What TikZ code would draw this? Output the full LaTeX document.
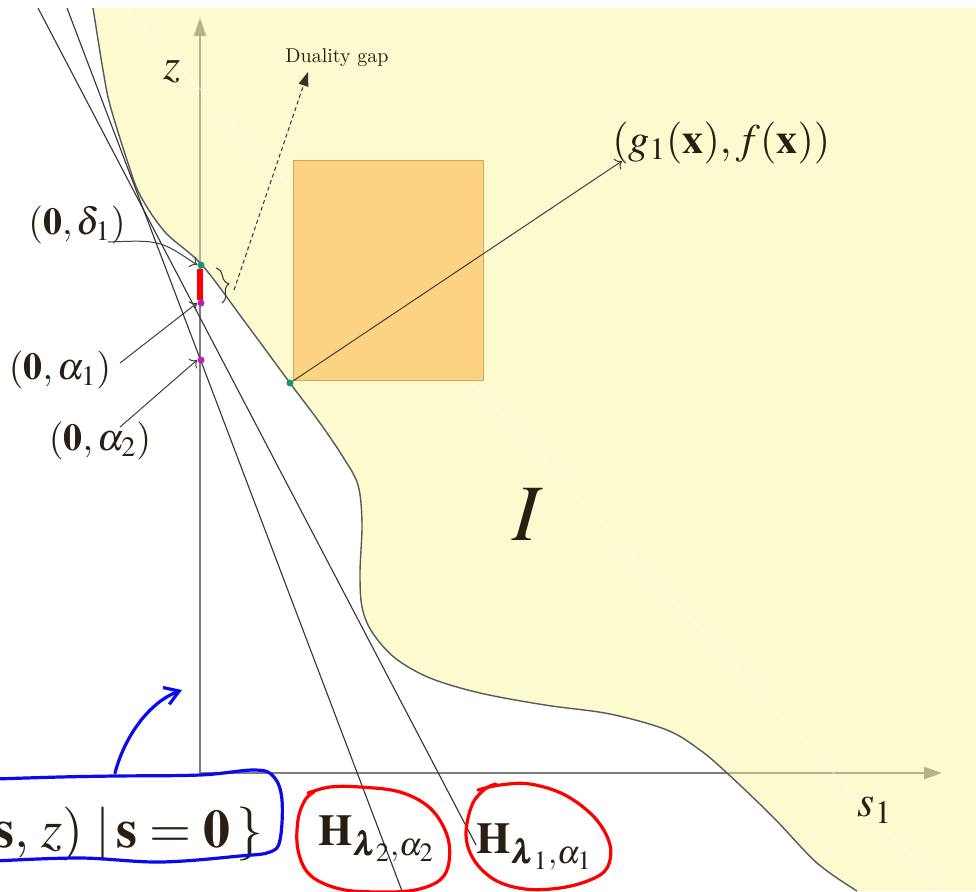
\documentclass[tikz,border=0pt]{standalone}
\usepackage{mathptmx}
\usepackage{bm}
\usetikzlibrary{arrows.meta,decorations.pathreplacing}
\definecolor{regionyellow}{RGB}{250,245,150}
\definecolor{boxorange}{RGB}{251,211,130}
\definecolor{boxedge}{RGB}{215,165,90}
\definecolor{dotgreen}{RGB}{20,150,110}
\definecolor{dotmagenta}{RGB}{190,30,190}
\definecolor{axisgray}{RGB}{125,125,125}
\definecolor{inkblue}{RGB}{10,10,240}
\definecolor{labelink}{RGB}{40,30,20}
\tikzset{
  axis/.style={draw=axisgray, line width=1.1pt, -{Triangle[length=9pt,width=6pt]}},
  hplane/.style={draw=gray!40!black, line width=0.55pt},
  boundary/.style={draw=gray!70!black, line width=0.7pt},
  lbl/.style={font=\fontsize{19}{22}\selectfont, text=labelink, inner sep=0pt},
  pointer/.style={draw=gray!50!black, line width=0.5pt, -{To[length=3pt]}},
  ink/.style={line width=1.6pt, line cap=round, line join=round},
  pt/.style={circle, inner sep=0pt, minimum size=3.5pt}
}
\begin{document}
\begin{tikzpicture}[x=0.5pt,y=-0.5pt]
    \useasboundingbox (0,0) rectangle (976,891);
    \fill[white] (0,0) rectangle (976,891);
    \coordinate (origin) at (200,773);
    \draw[axis] (origin) -- (200,18);
    \draw[axis] (origin) -- (942,773);
    \fill[regionyellow, opacity=0.45] plot[smooth, tension=0.55] coordinates {(93,8) (103,70) (110,105) (127,160) (140,195) (165,232) (202,265) (245,322) (290,383) (320,423) (343,457) (358,485) (362,523) (360,573) (362,607) (372,632) (395,658) (430,678) (480,693) (545,705) (610,714) (667,730) (700,750) (727,773) (773,817) (817,863) (857,891)} -- (976,891) -- (976,8) -- cycle;
    \draw[white, line width=0.5pt, opacity=0.5] (125,8) -- (943,891);
    \draw[boundary] plot[smooth, tension=0.55] coordinates {(93,8) (103,70) (110,105) (127,160) (140,195) (165,232) (202,265) (245,322) (290,383) (320,423) (343,457) (358,485) (362,523) (360,573) (362,607) (372,632) (395,658) (430,678) (480,693) (545,705) (610,714) (667,730) (700,750) (727,773) (773,817) (817,863) (857,891)};
    \filldraw[fill=boxorange, draw=boxedge, line width=0.5pt] (293,160) rectangle (483,380);
    \draw[hplane] (67,8) -- (402,891);
    \draw[hplane] (38,8) -- (476,845);
    \draw[red, line width=2.6pt] (200,269) -- (200,300);
    \node[pt, fill=dotgreen] (pdelta) at (201,265) {};
    \node[pt, fill=dotmagenta] (palpha1) at (201,303) {};
    \node[pt, fill=dotmagenta] (palpha2) at (201,360) {};
    \node[pt, fill=dotgreen] (pcorner) at (290,383) {};
    \node[lbl, font=\fontsize{21}{24}\selectfont, anchor=west] (glab) at (612,143) {$(g_1(\mathbf{x}), f(\mathbf{x}))$};
    \coordinate (gtip) at (622,161);
    \draw[pointer] (pcorner) -- (gtip);
    \node[font=\fontsize{10}{11}\selectfont, text=labelink] (gap) at (337,58) {Duality gap};
    \draw[decorate, decoration={brace, amplitude=5pt}, draw=gray!40!black, line width=0.5pt] (216,268) -- (222,303);
    \coordinate (gapfoot) at (234,290);
    \coordinate (gaptip) at (308,72);
    \draw[dash pattern=on 2pt off 1.5pt, draw=gray!40!black, line width=0.5pt, -{Triangle[length=7pt,width=5pt]}] (gapfoot) -- (gaptip);
    \node[lbl] (ldelta) at (77,225) {$(\mathbf{0},\delta_1)$};
    \node[lbl] (lalpha1) at (60,370) {$(\mathbf{0},\alpha_1)$};
    \node[lbl] (lalpha2) at (100,441) {$(\mathbf{0},\alpha_2)$};
    \coordinate (adelta) at (108,242);
    \coordinate (aalpha1) at (120,363);
    \coordinate (aalpha2) at (120,427);
    \draw[pointer] (adelta) .. controls (160,240) .. (pdelta.west);
    \draw[pointer] (aalpha1) -- (palpha1.west);
    \draw[pointer] (aalpha2) -- (palpha2.west);
    \node[font=\fontsize{22}{26}\selectfont, text=labelink] (zlab) at (172,72) {$z$};
    \node[font=\fontsize{22}{26}\selectfont, text=labelink] (slab) at (875,810) {$s_1$};
    \node[font=\fontsize{40}{44}\selectfont, text=labelink] (reg) at (528,515) {$I$};
    \node[font=\fontsize{27}{30}\selectfont, text=labelink, anchor=base east, inner sep=0pt] (slice) at (264,847) {$\{(\mathbf{s},\,z)\;|\,\mathbf{s}=\mathbf{0}\,\}$};
    \node[font=\fontsize{22}{26}\selectfont, text=labelink, anchor=base west, inner sep=0pt] (hlab2) at (318,845) {$\mathbf{H}_{\bm{\lambda}_2,\alpha_2}$};
    \node[font=\fontsize{22}{26}\selectfont, text=labelink, anchor=base west, inner sep=0pt] (hlab1) at (476,853) {$\mathbf{H}_{\bm{\lambda}_1,\alpha_1}$};
    \draw[ink, inkblue] plot[smooth, tension=0.6] coordinates {(-5,779) (60,777) (115,776) (200,775) (255,770) (274,777) (282,800) (280,840) (270,852) (240,856) (160,862) (80,858) (-5,861)};
    \coordinate (inkfoot) at (115,773);
    \coordinate (inktip) at (182,690);
    \draw[ink, inkblue, -{Straight Barb[length=7pt,width=9pt]}] (inkfoot) .. controls (125,735) and (150,702) .. (inktip);
    \draw[ink, red] plot[smooth, tension=0.6] coordinates {(308,793) (330,787) (360,787) (400,792) (430,808) (447,835) (449,862) (440,880) (415,890) (380,892) (340,889) (310,875) (298,850) (298,820) (305,800) (314,792)};
    \draw[ink, red] plot[smooth, tension=0.6] coordinates {(478,790) (500,785) (530,784) (565,795) (595,818) (610,845) (607,868) (590,880) (560,888) (525,889) (495,880) (474,860) (466,835) (472,805) (485,789) (496,784)};
\end{tikzpicture}
\end{document}
